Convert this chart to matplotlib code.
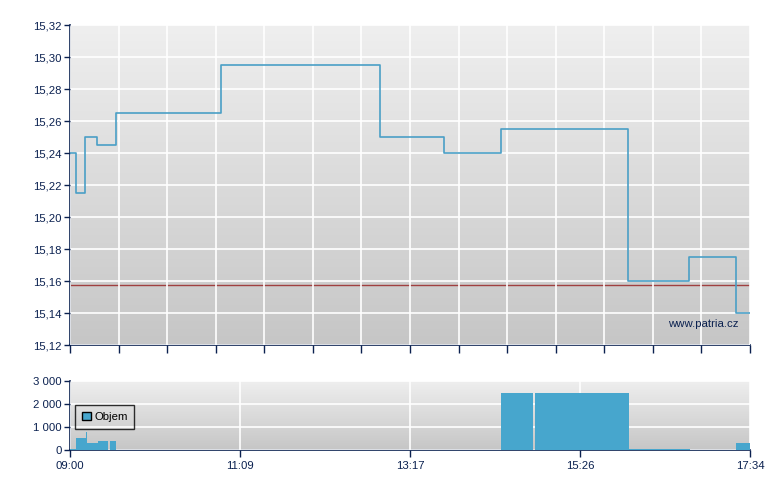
import numpy as np
import matplotlib
matplotlib.use("Agg")
import matplotlib.pyplot as plt
from matplotlib.patches import Patch

plt.rcParams['font.family'] = ['Liberation Sans', 'DejaVu Sans']

# cena - minuty od 09:00 a hodnota od toho okamziku
price_min = [0, 4.5, 11.6, 20.6, 34.4, 114.1, 234.3, 282.7, 325.8, 421.8, 467.9, 503.5, 514]
price_val = [15.24, 15.215, 15.25, 15.245, 15.265, 15.295, 15.25, 15.24, 15.255, 15.16, 15.175, 15.14, 15.14]
prev_close = 15.1575

# objem - zacatek, konec (minuty od 09:00), hodnota
vol_start = [0, 4.5, 12.1, 12.9, 21.2, 30.2, 325.8, 351.4, 422.5, 503.5]
vol_end = [4.5, 12.1, 12.9, 21.2, 28.7, 34.8, 349.9, 422.5, 468.6, 514]
vol_val = [40, 510, 800, 320, 400, 400, 2480, 2480, 40, 300]

time_labels = ["09:00", "11:09", "13:17", "15:26", "17:34"]
total_min = 514

navy = "#0b2150"
line_c = "#4a9fc6"
bar_c = "#47a6cd"

fig = plt.figure(figsize=(7.8, 4.9), dpi=100)
ax1 = fig.add_axes([70/780, 145/490, 680/780, 320/490])
ax2 = fig.add_axes([70/780, 40/490, 680/780, 69/490])

grad = np.linspace(0, 1, 256).reshape(-1, 1)
for ax in (ax1, ax2):
    ax.imshow(grad, extent=[0, 1, 0, 1], transform=ax.transAxes, aspect='auto',
              cmap=matplotlib.colors.LinearSegmentedColormap.from_list('g', ['#efefef', '#c6c6c6']),
              zorder=0)
    for s in ['top', 'right']:
        ax.spines[s].set_visible(False)
    for s in ['left', 'bottom']:
        ax.spines[s].set_color(navy)
        ax.spines[s].set_linewidth(1.2)
    ax.tick_params(colors=navy, labelcolor=navy, labelsize=8.2, width=1, length=4, pad=2)
    ax.grid(True, color='white', linewidth=1.2, zorder=1)
    ax.set_axisbelow(False)

# horni graf
ax1.step(price_min, price_val, where='post', color=line_c, linewidth=1.2, zorder=3)
ax1.axhline(prev_close, color='#a04040', linewidth=1, zorder=2)
ax1.set_xlim(0, total_min)
ax1.set_ylim(15.12, 15.32)
ax1.set_yticks(np.arange(15.12, 15.321, 0.02))
ax1.set_yticklabels([f"{v:.2f}".replace('.', ',') for v in np.arange(15.12, 15.321, 0.02)])
ax1.set_xticks(np.linspace(0, total_min, 15))
ax1.set_xticklabels([])
ax1.tick_params(axis='x', length=6)
ax1.text(0.983, 0.065, "www.patria.cz", transform=ax1.transAxes, ha='right', va='center',
         color=navy, fontsize=8.2, zorder=4)

# dolni graf - objem
ax2.bar(vol_start, vol_val, width=np.array(vol_end) - np.array(vol_start), align='edge',
        color=bar_c, linewidth=0, zorder=3)
ax2.set_xlim(0, total_min)
ax2.set_ylim(0, 3000)
ax2.set_yticks([0, 1000, 2000, 3000])
ax2.set_yticklabels(["0", "1 000", "2 000", "3 000"])
ax2.set_xticks(np.linspace(0, total_min, 5))
ax2.set_xticklabels(time_labels)
ax2.tick_params(axis='x', length=5, pad=3)
leg = ax2.legend(handles=[Patch(facecolor=bar_c, edgecolor='black', label='Objem')],
                 loc='upper left', bbox_to_anchor=(0.007, 0.655), borderaxespad=0,
                 fontsize=8.2, frameon=True, fancybox=False, handlelength=0.8,
                 handleheight=0.8, borderpad=0.6, handletextpad=0.3)
leg.get_frame().set_edgecolor('black')
leg.get_frame().set_facecolor('none')
leg.set_zorder(5)

fig.savefig("out.png", dpi=100)
